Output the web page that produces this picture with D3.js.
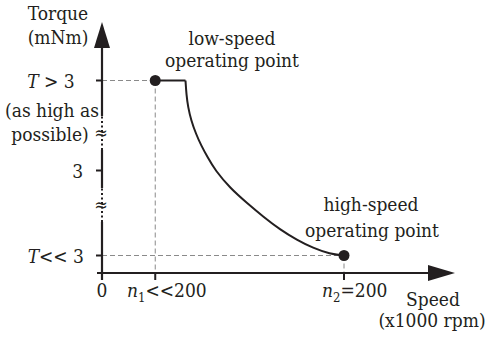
<!DOCTYPE html>
<html>
<head>
<meta charset="utf-8">
<script src="https://cdn.jsdelivr.net/npm/d3@7/dist/d3.min.js"></script>
<style>
  body { margin: 0; background: #fff; }
</style>
</head>
<body>
<div id="chart"></div>
<script>
// datos esquemáticos (eje Y con cortes, unidades arbitrarias)
const yTicks = [
  { v: 0.7, label: "T << 3" },
  { v: 4.1, label: "3" },
  { v: 7.7, label: "T > 3" }
];
const xTicks = [
  { v: 0, label: "0" },
  { v: 44, label: "n1<<200" },
  { v: 200, label: "n2=200" }
];
const yBreaks = [2.72, 5.6];
const flatSegment = [[44, 7.7], [69.0, 7.7]];
const curveSpeed = [69.0, 69.8, 71.1, 73.6, 77.7, 81.8, 87.6, 93.4, 105.8, 119.8, 133.1, 147.1, 161.2, 174.4, 188.4, 200];
const curveTorque = [7.7, 7.12, 6.64, 6.12, 5.56, 5.12, 4.60, 4.12, 3.40, 2.80, 2.26, 1.74, 1.32, 1.00, 0.76, 0.7];
const operatingPoints = [[44, 7.7], [200, 0.7]];

const width = 487, height = 339;
const ink = "#231f20";
const svg = d3.select("#chart").append("svg")
  .attr("width", width).attr("height", height)
  .attr("font-family", "'DejaVu Serif Condensed', 'DejaVu Serif', serif")
  .attr("font-stretch", "condensed");

const x = d3.scaleLinear().domain([0, 200]).range([102, 344]);
const y = d3.scaleLinear().domain([0, 10]).range([273, 23]);
const x0 = x(0), y0 = y(0);

// lineas guia punteadas
const guides = [
  [[0, 7.7], [44, 7.7]], [[44, 7.7], [44, 0]],
  [[0, 0.7], [200, 0.7]], [[200, 0.7], [200, 0]]
];
const lineFn = d3.line().x(d => x(d[0])).y(d => y(d[1]));
svg.selectAll("path.guide").data(guides).join("path")
  .attr("class", "guide")
  .attr("d", lineFn)
  .attr("fill", "none").attr("stroke", "#8a8a8a").attr("stroke-width", 1)
  .attr("stroke-dasharray", "5,3");

// eje X
svg.append("line").attr("x1", x0 - 5).attr("x2", 428).attr("y1", y0).attr("y2", y0)
  .attr("stroke", ink).attr("stroke-width", 2.2);
svg.append("path").attr("d", `M455,${y0} L428,${y0 - 8} L428,${y0 + 8} Z`).attr("fill", ink);

// eje Y con cortes
const half = 0.68;
const solidSegs = [
  [y0 + 7, y(yBreaks[0] - half)],
  [y(yBreaks[0] + half), y(yBreaks[1] - half)],
  [y(yBreaks[1] + half), 48]
];
const dotSegs = yBreaks.map(b => [y(b - half), y(b + half)]);
svg.selectAll("line.ysolid").data(solidSegs).join("line")
  .attr("class", "ysolid")
  .attr("x1", x0).attr("x2", x0).attr("y1", d => d[0]).attr("y2", d => d[1])
  .attr("stroke", ink).attr("stroke-width", 2.2);
svg.selectAll("line.ydot").data(dotSegs).join("line")
  .attr("class", "ydot")
  .attr("x1", x0).attr("x2", x0).attr("y1", d => d[0]).attr("y2", d => d[1])
  .attr("stroke", ink).attr("stroke-width", 2).attr("stroke-dasharray", "2,2.5");
svg.selectAll("text.brk").data(yBreaks).join("text")
  .attr("class", "brk")
  .attr("x", x0 - 1).attr("y", d => y(d) + 6)
  .attr("text-anchor", "middle").attr("font-size", 18).attr("fill", ink)
  .text("≈");
svg.append("path").attr("d", `M${x0},22 L${x0 - 8},48 L${x0 + 8},48 Z`).attr("fill", ink);

// marcas
svg.selectAll("line.yt").data(yTicks).join("line")
  .attr("class", "yt")
  .attr("x1", x0 - 6).attr("x2", x0).attr("y1", d => y(d.v)).attr("y2", d => y(d.v))
  .attr("stroke", ink).attr("stroke-width", 2);
svg.selectAll("line.xt").data(xTicks.slice(1)).join("line")
  .attr("class", "xt")
  .attr("x1", d => x(d.v)).attr("x2", d => x(d.v)).attr("y1", y0).attr("y2", y0 + 7)
  .attr("stroke", ink).attr("stroke-width", 2);

// curva par-velocidad
svg.append("path").datum(flatSegment)
  .attr("d", lineFn)
  .attr("fill", "none").attr("stroke", ink).attr("stroke-width", 2);
svg.append("path").datum(d3.zip(curveSpeed, curveTorque))
  .attr("d", lineFn.curve(d3.curveBasis))
  .attr("fill", "none").attr("stroke", ink).attr("stroke-width", 2);

svg.selectAll("circle.op").data(operatingPoints).join("circle")
  .attr("class", "op")
  .attr("cx", d => x(d[0])).attr("cy", d => y(d[1])).attr("r", 5.5)
  .attr("fill", ink);

// etiquetas
const fs = 19;
function label(xp, yp, anchor, parts) {
  const t = svg.append("text").attr("x", xp).attr("y", yp)
    .attr("text-anchor", anchor).attr("font-size", fs).attr("fill", ink);
  parts.forEach(p => {
    const ts = t.append("tspan").text(p.t);
    if (p.i) ts.attr("font-style", "italic");
    if (p.sub) ts.attr("font-size", 13).attr("dy", 5);
    if (p.up) ts.attr("dy", -5);
  });
  return t;
}

// eje Y
label(58, 20, "middle", [{ t: "Torque" }]);
label(58, 44, "middle", [{ t: "(mNm)" }]);
label(51, y(yTicks[2].v) + 7, "middle", [{ t: "T", i: true }, { t: " > 3" }]);
label(52, 117, "middle", [{ t: "(as high as" }]);
label(50, 141, "middle", [{ t: "possible)" }]);
label(83, y(yTicks[1].v) + 7, "end", [{ t: yTicks[1].label }]);
label(84, y(yTicks[0].v) + 7, "end", [{ t: "T", i: true }, { t: "<< 3" }]);

// eje X
label(x(0), 297, "middle", [{ t: "0" }]);
label(127, 297, "start", [{ t: "n", i: true }, { t: "1", sub: true }, { t: "<<200", up: true }]);
label(322, 297, "start", [{ t: "n", i: true }, { t: "2", sub: true }, { t: "=200", up: true }]);
label(433, 306, "middle", [{ t: "Speed" }]);
label(432, 327, "middle", [{ t: "(x1000 rpm)" }]);

// puntos de operacion
label(232, 45, "middle", [{ t: "low-speed" }]);
label(232, 67, "middle", [{ t: "operating point" }]);
label(371, 211, "middle", [{ t: "high-speed" }]);
label(372, 237, "middle", [{ t: "operating point" }]);
</script>
</body>
</html>
